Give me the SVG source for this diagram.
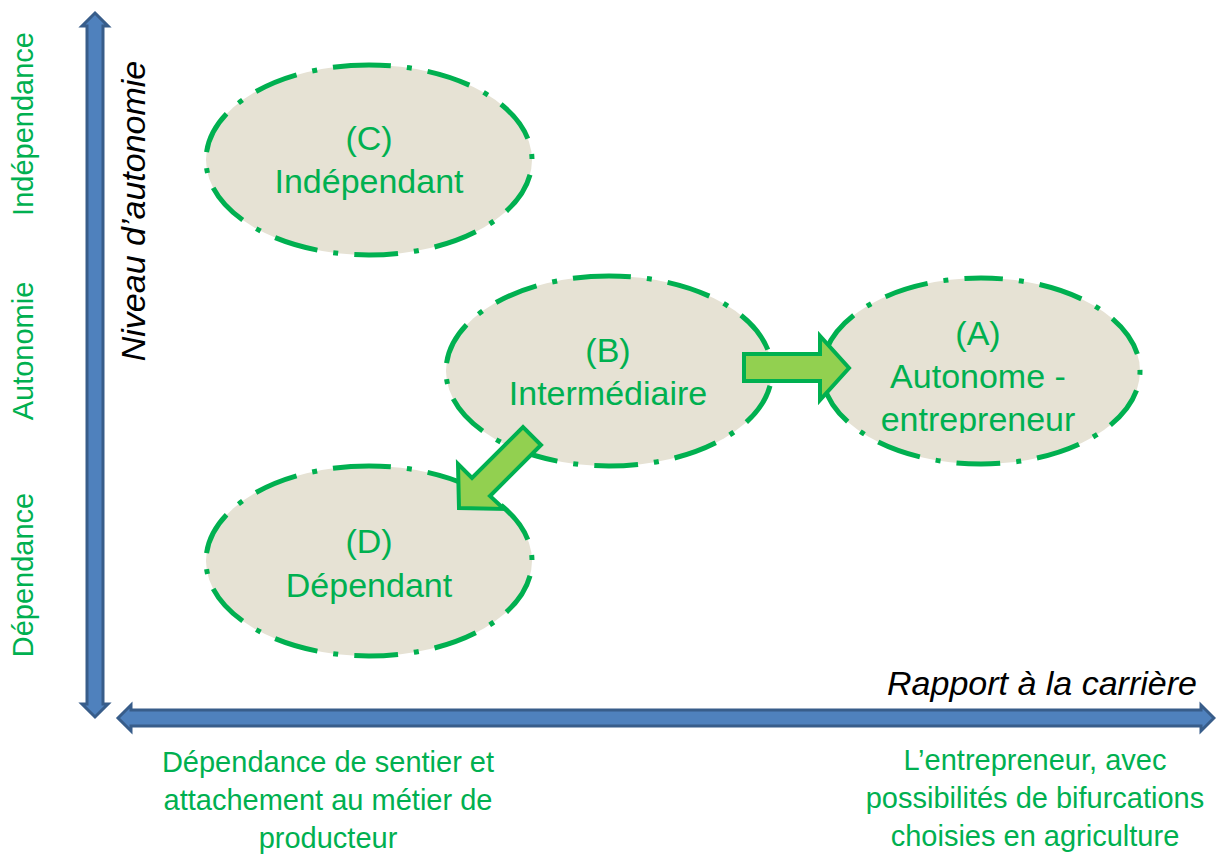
<svg xmlns="http://www.w3.org/2000/svg" width="1216" height="859" viewBox="0 0 1216 859">
<defs>
<style>
.ell{fill:#e6e2d4;stroke:#00b050;stroke-width:5;stroke-dasharray:44 16 5 16;stroke-dashoffset:22}
.t{font-family:"Liberation Sans",Arial,sans-serif;fill:#00b050;text-anchor:middle}
.big{font-size:34px}
.lab{font-size:29px}
.it{font-family:"Liberation Sans",Arial,sans-serif;font-style:italic;font-size:34px;fill:#000;text-anchor:middle}
.axis{fill:#4f81bd;stroke:#385d8a;stroke-width:3;stroke-linejoin:miter}
.garr{fill:#92d050;stroke:#00b050;stroke-width:4;stroke-linejoin:miter}
</style>
<clipPath id="clipA"><rect x="820" y="270" width="330" height="163"/></clipPath>
</defs>
<rect width="1216" height="859" fill="#fff"/>

<g id="axes">
<polygon class="axis" points="95,13 108,26 103,26 103,704 108,704 95,717 82,704 87,704 87,26 82,26"/>
<polygon class="axis" points="118,718 131,705 131,710 1201,710 1201,705 1214,718 1201,731 1201,726 131,726 131,731"/>
</g>

<g id="axis-labels">
<text class="t lab" transform="translate(33,124) rotate(-90)">Indépendance</text>
<text class="t lab" transform="translate(33,351) rotate(-90)">Autonomie</text>
<text class="t lab" transform="translate(33,575) rotate(-90)">Dépendance</text>
<text class="it" transform="translate(145,211) rotate(-90)">Niveau d’autonomie</text>
<text class="it" x="1042" y="695">Rapport à la carrière</text>
<text class="t lab" x="328" y="772">Dépendance de sentier et</text>
<text class="t lab" x="328" y="810">attachement au métier de</text>
<text class="t lab" x="328" y="848">producteur</text>
<text class="t lab" x="1035" y="770">L’entrepreneur, avec</text>
<text class="t lab" x="1035" y="808">possibilités de bifurcations</text>
<text class="t lab" x="1035" y="846">choisies en agriculture</text>
</g>

<g id="node-C">
<path class="ell" d="M369,65 A163,95 0 1 1 369,255 A163,95 0 1 1 369,65 Z"/>
<text class="t big" x="369" y="150">(C)</text>
<text class="t big" x="369" y="193">Indépendant</text>
</g>

<g id="node-B">
<path class="ell" d="M609,276 A163,95 0 1 1 609,466 A163,95 0 1 1 609,276 Z"/>
<text class="t big" x="608" y="362">(B)</text>
<text class="t big" x="608" y="405">Intermédiaire</text>
</g>

<g id="node-A">
<path class="ell" d="M981,278 A159,93 0 1 1 981,464 A159,93 0 1 1 981,278 Z"/>
<g clip-path="url(#clipA)">
<text class="t big" x="978" y="345">(A)</text>
<text class="t big" x="978" y="388">Autonome -</text>
<text class="t big" x="978" y="431">entrepreneur</text>
</g>
</g>

<g id="node-D">
<path class="ell" d="M369,466 A163,95 0 1 1 369,656 A163,95 0 1 1 369,466 Z"/>
<text class="t big" x="369" y="553">(D)</text>
<text class="t big" x="369" y="597">Dépendant</text>
</g>

<g id="connectors">
<polygon class="garr" points="744,354 820,354 820,336 849,368 820,400 820,381 744,381"/>
<polygon class="garr" points="459,508 458,464 472,478 523,427 541,445 490,496 504,509"/>
</g>
</svg>
